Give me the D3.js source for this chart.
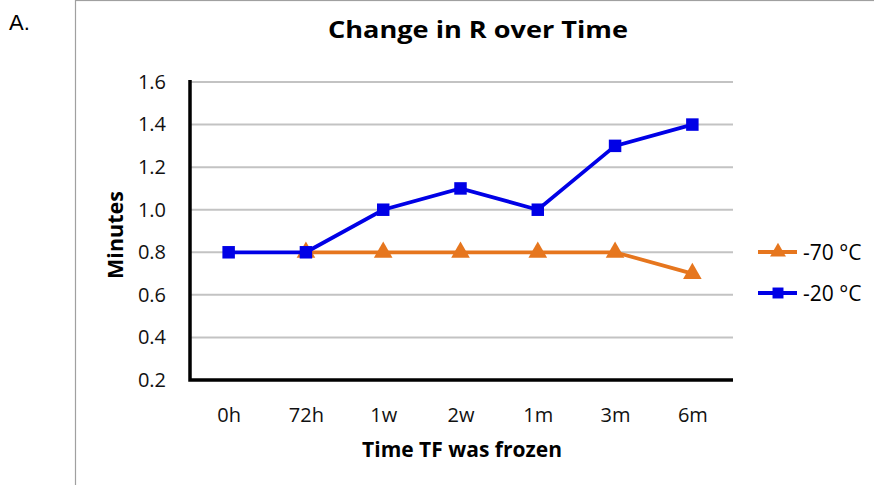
<!DOCTYPE html>
<html><head><meta charset="utf-8">
<script src="https://cdn.jsdelivr.net/npm/d3@7"></script>
<style>body{margin:0;background:#fff;}svg{display:block;font-family:"Open Sans",sans-serif;}</style>
</head><body>
<svg id="c" width="874" height="485"></svg>
<script>
const categories = ["0h","72h","1w","2w","1m","3m","6m"];
const minus70 = [null,0.8,0.8,0.8,0.8,0.8,0.7];
const minus20 = [0.8,0.8,1.0,1.1,1.0,1.3,1.4];
const yTicks = [0.2,0.4,0.6,0.8,1.0,1.2,1.4,1.6];
const seriesNames = ["-70 °C","-20 °C"];

const svg = d3.select("#c");
const orange = "#e6761e", blue = "#0000e6";

// frame
svg.append("rect").attr("x",75.5).attr("y",0.5).attr("width",820).attr("height",500)
  .attr("fill","none").attr("stroke","#a0a0a0").attr("stroke-width",1.2);
svg.append("text").attr("x",9).attr("y",30).attr("font-size",22).attr("font-family","Liberation Sans, Arial, sans-serif").text("A.");

const L=190, R=731, T=82, B=380;
const x = d3.scalePoint().domain(categories).range([L,R]).padding(0.5);
const y = d3.scaleLinear().domain([0.2,1.6]).range([B,T]);

// gridlines
svg.append("g").selectAll("line").data(yTicks.slice(1)).join("line")
  .attr("x1",L).attr("x2",R+2).attr("y1",d=>y(d)).attr("y2",d=>y(d))
  .attr("stroke","#c3c3c3").attr("stroke-width",2);

// y axis
const ya = svg.append("g").attr("transform",`translate(${L},0)`)
  .call(d3.axisLeft(y).tickValues(yTicks).tickFormat(d3.format(".1f")).tickSize(0).tickPadding(24));
ya.select(".domain").remove();
ya.selectAll("text").attr("font-size",20).attr("font-family","Open Sans, sans-serif").attr("fill","#111");

const xa = svg.append("g").attr("transform",`translate(0,${B})`)
  .call(d3.axisBottom(x).tickSize(0));
xa.select(".domain").remove();
xa.selectAll("text").attr("y",42).attr("dy",0).attr("font-size",20).attr("font-family","Open Sans, sans-serif").attr("fill","#111");

// axis lines
svg.append("path").attr("d",`M${L},${T-2}V${B}H${R+2}`).attr("fill","none").attr("stroke","#000").attr("stroke-width",3.5);

// titles
svg.append("text").attr("x",478).attr("y",38).attr("text-anchor","middle").attr("font-size",24).attr("font-weight","bold")
  .attr("textLength",300).attr("lengthAdjust","spacingAndGlyphs").text("Change in R over Time");
svg.append("text").attr("transform",`translate(123,235) rotate(-90)`).attr("text-anchor","middle").attr("font-size",21.5).attr("font-weight","bold").text("Minutes");
svg.append("text").attr("x",462).attr("y",457).attr("text-anchor","middle").attr("font-size",21).attr("font-weight","bold").text("Time TF was frozen");

const line = d3.line().defined(d=>d.v!=null).x(d=>x(d.c)).y(d=>y(d.v));
const tri = d3.symbol().type(d3.symbolTriangle).size(150);
const sq = d3.symbol().type(d3.symbolSquare).size(156);

function draw(vals,color,sym){
  const data = categories.map((c,i)=>({c,v:vals[i]}));
  svg.append("path").datum(data).attr("d",line).attr("fill","none").attr("stroke",color).attr("stroke-width",3.8);
  svg.append("g").selectAll("path").data(data.filter(d=>d.v!=null)).join("path")
    .attr("d",sym).attr("transform",d=>`translate(${x(d.c)},${y(d.v)})`).attr("fill",color);
}
draw(minus70,orange,tri);
draw(minus20,blue,sq);

// legend
const ltri = d3.symbol().type(d3.symbolTriangle).size(110);
const lsq = d3.symbol().type(d3.symbolSquare).size(120);
const leg = [{n:seriesNames[0],c:orange,s:ltri,y:252},{n:seriesNames[1],c:blue,s:lsq,y:293}];
leg.forEach(l=>{
  svg.append("line").attr("x1",758).attr("x2",797).attr("y1",l.y).attr("y2",l.y).attr("stroke",l.c).attr("stroke-width",3.8);
  svg.append("path").attr("d",l.s).attr("transform",`translate(778,${l.y})`).attr("fill",l.c);
  svg.append("text").attr("x",803).attr("y",l.y+8).attr("font-size",21).text(l.n);
});
</script>
</body></html>
